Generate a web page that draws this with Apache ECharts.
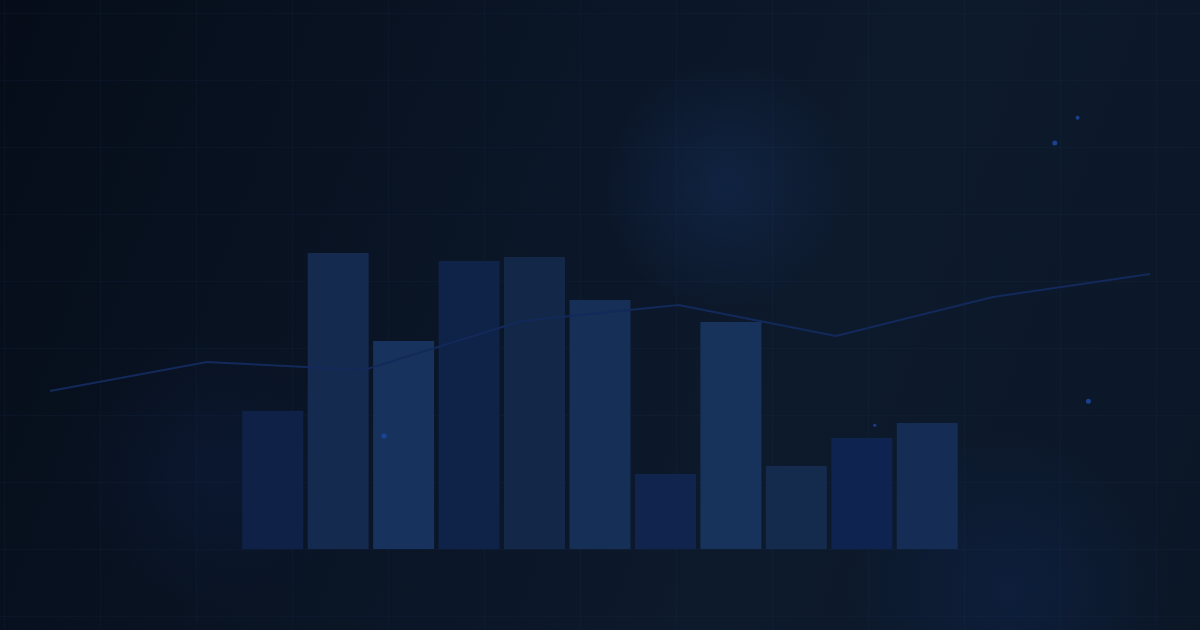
<!DOCTYPE html>
<html>
<head>
<meta charset="utf-8">
<script src="https://cdn.jsdelivr.net/npm/echarts@6/dist/echarts.min.js"></script>
<style>
html,body{margin:0;padding:0;width:1200px;height:630px;overflow:hidden;}
body{
  background:
    linear-gradient(rgba(45,75,130,0.08) 1px, transparent 1px) 0 13px / 96px 67px,
    linear-gradient(90deg, rgba(45,75,130,0.08) 1px, transparent 1px) 4px 0 / 96px 67px,
    radial-gradient(circle at 725px 185px, rgba(22,48,95,0.45) 0, rgba(22,48,95,0.2) 70px, rgba(22,48,95,0) 125px),
    radial-gradient(circle at 1010px 590px, rgba(16,38,85,0.42) 0, rgba(16,38,85,0) 160px),
    radial-gradient(circle at 215px 470px, rgba(16,36,80,0.3) 0, rgba(16,36,80,0) 140px),
    linear-gradient(110deg, #060d19 0%, #0a1526 40%, #0d1a2c 65%, #0b1727 100%);
}
#chart{width:1200px;height:630px;}
</style>
</head>
<body>
<div id="chart"></div>
<script>
// Bar series (11 bars)
const barCategories = ['1','2','3','4','5','6','7','8','9','10','11'];
const barValues = [46, 98.7, 69.3, 96, 97.3, 83, 25, 75.7, 27.7, 37, 42];
const barColors = ['#0f2146','#152a4f','#17335d','#0f2349','#132848','#152f56','#10244d','#17335c','#142b4e','#0f2350','#152c55'];
// Line series (8 points)
const lineCategories = ['1','2','3','4','5','6','7','8'];
const lineValues = [52.7, 62.3, 59.7, 76, 81.3, 71, 84, 91.7];
// Decorative particles (percent of canvas)
const dotX = [89.8, 87.9, 90.7, 72.9, 32.0];
const dotY = [18.7, 22.7, 63.7, 67.5, 69.2];
const dotSize = [4, 5, 5, 3, 5];

const chart = echarts.init(document.getElementById('chart'), null, {renderer:'canvas'});
chart.setOption({
  animation:false,
  backgroundColor:'transparent',
  grid:[
    {left:240, right:240, top:249, bottom:81},
    {left:50, right:50, top:249, bottom:81},
    {left:0, right:0, top:0, bottom:0}
  ],
  xAxis:[
    {type:'category', data:barCategories, gridIndex:0, show:false, boundaryGap:true},
    {type:'category', data:lineCategories, gridIndex:1, show:false, boundaryGap:false},
    {type:'value', min:0, max:100, gridIndex:2, show:false}
  ],
  yAxis:[
    {type:'value', min:0, max:100, gridIndex:0, show:false},
    {type:'value', min:0, max:100, gridIndex:1, show:false},
    {type:'value', min:0, max:100, gridIndex:2, show:false, inverse:true}
  ],
  series:[
    {
      type:'bar', xAxisIndex:0, yAxisIndex:0, barWidth:61,
      data: barValues.map((v,i)=>({value:v, itemStyle:{color:barColors[i]}})),
      silent:true
    },
    {
      type:'line', xAxisIndex:1, yAxisIndex:1, data:lineValues,
      symbol:'none', lineStyle:{color:'#13295a', width:2}, silent:true, z:3
    },
    {
      type:'scatter', xAxisIndex:2, yAxisIndex:2,
      data: dotX.map((x,i)=>[x, dotY[i], dotSize[i]]),
      symbolSize: d=>d[2],
      itemStyle:{color:'#1d48a0', opacity:0.85}, silent:true, z:4
    }
  ]
});
</script>
</body>
</html>
